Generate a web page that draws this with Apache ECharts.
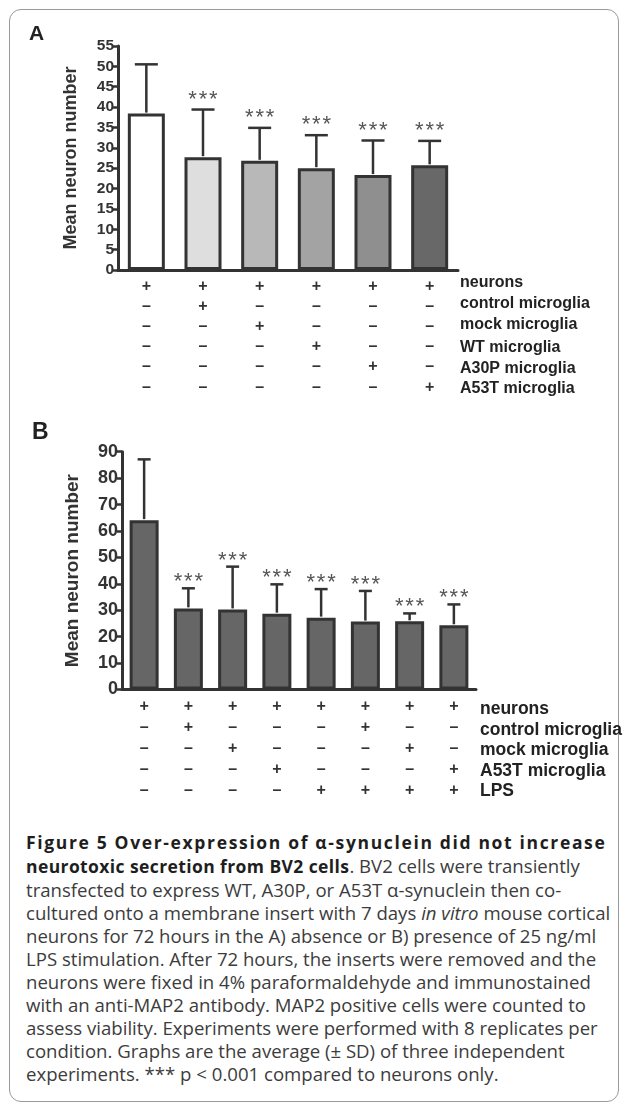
<!DOCTYPE html>
<html>
<head>
<meta charset="utf-8">
<script src="https://cdn.jsdelivr.net/npm/echarts@6/dist/echarts.min.js"></script>
<style>
  html, body { margin: 0; padding: 0; background: #fff; }
  body { width: 629px; height: 1111px; position: relative; overflow: hidden; }
  #frame { position: absolute; left: 9px; top: 9px; width: 608px; height: 1091px;
           border: 1.5px solid #9a9a9a; border-radius: 12px; }
  #chart { position: absolute; left: 0; top: 0; width: 629px; height: 810px; }
  #caption { position: absolute; left: 26px; top: 830px; width: 600px;
             font-family: "Open Sans", "Noto Sans", sans-serif; font-size: 18.6px;
             line-height: 23px; color: #3c3c3c; white-space: nowrap; }
  #caption b { color: #1e1e1e; font-size: 17.5px; letter-spacing: 0.4px; }
  #caption b.t1 { letter-spacing: 1.65px; }
</style>
</head>
<body>
<div id="frame"></div>
<div id="chart"></div>
<div id="caption">
<div><b class="t1">Figure 5 Over-expression of α-synuclein did not increase</b></div>
<div><b>neurotoxic secretion from BV2 cells</b>. BV2 cells were transiently</div>
<div>transfected to express WT, A30P, or A53T α-synuclein then co-</div>
<div>cultured onto a membrane insert with 7 days <i>in vitro</i> mouse cortical</div>
<div>neurons for 72 hours in the A) absence or B) presence of 25 ng/ml</div>
<div>LPS stimulation. After 72 hours, the inserts were removed and the</div>
<div>neurons were fixed in 4% paraformaldehyde and immunostained</div>
<div>with an anti-MAP2 antibody. MAP2 positive cells were counted to</div>
<div>assess viability. Experiments were performed with 8 replicates per</div>
<div>condition. Graphs are the average (± SD) of three independent</div>
<div>experiments. *** p &lt; 0.001 compared to neurons only.</div>
</div>
<script>
// ---------- Panel A data ----------
var catsA = ['1', '2', '3', '4', '5', '6'];
var meanA = [38.4, 27.7, 26.8, 25.0, 23.3, 25.7];
var sdA   = [12.1, 11.7, 8.1, 8.1, 8.5, 6.0];
var sigA  = ['', '***', '***', '***', '***', '***'];
var colorA = ['#ffffff', '#dedede', '#b8b8b8', '#a3a3a3', '#8f8f8f', '#686868'];
var rowNamesA = ['neurons', 'control microglia', 'mock microglia', 'WT microglia', 'A30P microglia', 'A53T microglia'];
var rowsA = [
  ['+', '+', '+', '+', '+', '+'],
  ['–', '+', '–', '–', '–', '–'],
  ['–', '–', '+', '–', '–', '–'],
  ['–', '–', '–', '+', '–', '–'],
  ['–', '–', '–', '–', '+', '–'],
  ['–', '–', '–', '–', '–', '+']
];
var yTicksA = { min: 0, max: 55, interval: 5 };

// ---------- Panel B data ----------
var catsB = ['1', '2', '3', '4', '5', '6', '7', '8'];
var meanB = [64.1, 30.7, 30.3, 28.7, 27.2, 25.7, 25.8, 24.3];
var sdB   = [23.0, 7.6, 16.2, 11.1, 10.8, 11.6, 3.0, 7.9];
var sigB  = ['', '***', '***', '***', '***', '***', '***', '***'];
var colorB = '#666666';
var rowNamesB = ['neurons', 'control microglia', 'mock microglia', 'A53T microglia', 'LPS'];
var rowsB = [
  ['+', '+', '+', '+', '+', '+', '+', '+'],
  ['–', '+', '–', '–', '–', '+', '–', '–'],
  ['–', '–', '+', '–', '–', '–', '+', '–'],
  ['–', '–', '–', '+', '–', '–', '–', '+'],
  ['–', '–', '–', '–', '+', '+', '+', '+']
];
var yTicksB = { min: 0, max: 90, interval: 10 };

var FONT = '"Liberation Sans", Arial, sans-serif';
var DARK = '#333333';

function errRender(sdArr, sigArr, capW, starGap) {
  return function (params, api) {
    var i = api.value(0), m = api.value(1), sd = api.value(2);
    var p0 = api.coord([i, m]);
    var p1 = api.coord([i, m + sd]);
    var h = capW / 2;
    var st = { stroke: DARK, lineWidth: 2.5 };
    var children = [
      { type: 'line', shape: { x1: p0[0], y1: p0[1] - 1, x2: p1[0], y2: p1[1] }, style: st },
      { type: 'line', shape: { x1: p1[0] - h, y1: p1[1], x2: p1[0] + h, y2: p1[1] }, style: st }
    ];
    var s = sigArr[params.dataIndex];
    if (s) {
      children.push({
        type: 'text', x: p1[0], y: p1[1] - starGap,
        style: { text: s.split('').join('\u200a'), textAlign: 'center', textVerticalAlign: 'top',
                 font: 'normal 22px ' + FONT, fill: '#555' }
      });
    }
    return { type: 'group', children: children };
  };
}

function colLabel(rows) {
  return function (v, idx) {
    return rows.map(function (r) { return r[idx]; }).join('\n');
  };
}

var chart = echarts.init(document.getElementById('chart'), null, { renderer: 'canvas' });

var graphics = [
  { type: 'text', left: 29, top: 24, style: { text: 'A', font: 'bold 21px ' + FONT, fill: '#222' } },
  { type: 'text', left: 32, top: 421, style: { text: 'B', font: 'bold 23px ' + FONT, fill: '#222' } }
];
var rowYA = [283, 304, 325, 347.5, 369, 389];
rowNamesA.forEach(function (n, k) {
  graphics.push({ type: 'text', x: 460, y: rowYA[k], style: { text: n, font: 'bold 16px ' + FONT, fill: '#222', textVerticalAlign: 'middle' } });
});
var rowYB = [709, 730, 750.5, 771.5, 791.5];
rowNamesB.forEach(function (n, k) {
  graphics.push({ type: 'text', x: 480, y: rowYB[k], style: { text: n, font: 'bold 17.5px ' + FONT, fill: '#222', textVerticalAlign: 'middle' } });
});

var option = {
  animation: false,
  textStyle: { fontFamily: FONT },
  graphic: graphics,
  grid: [
    { left: 118, top: 46, width: 340, height: 224 },
    { left: 122, top: 451.7, width: 354, height: 237.8 }
  ],
  xAxis: [
    { type: 'category', gridIndex: 0, data: catsA,
      axisLine: { lineStyle: { color: DARK, width: 3 } }, axisTick: { show: false },
      axisLabel: { formatter: colLabel(rowsA), interval: 0, margin: 6, lineHeight: 20.2,
                   fontSize: 16, fontWeight: 'bold', color: '#333', fontFamily: FONT } },
    { type: 'category', gridIndex: 1, data: catsB,
      axisLine: { lineStyle: { color: DARK, width: 3 } }, axisTick: { show: false },
      axisLabel: { formatter: colLabel(rowsB), interval: 0, margin: 7, lineHeight: 20.8,
                   fontSize: 16, fontWeight: 'bold', color: '#333', fontFamily: FONT } }
  ],
  yAxis: [
    { type: 'value', gridIndex: 0, min: yTicksA.min, max: yTicksA.max, interval: yTicksA.interval,
      name: 'Mean neuron number', nameLocation: 'middle', nameGap: 38,
      nameTextStyle: { fontSize: 18, fontWeight: 'bold', color: '#333', fontFamily: FONT },
      axisLine: { show: true, lineStyle: { color: DARK, width: 3 } },
      axisTick: { show: true, length: 5, lineStyle: { color: DARK, width: 2.5 } },
      splitLine: { show: false },
      axisLabel: { margin: 4, fontSize: 15.5, fontWeight: 'bold', color: '#333', fontFamily: FONT } },
    { type: 'value', gridIndex: 1, min: yTicksB.min, max: yTicksB.max, interval: yTicksB.interval,
      name: 'Mean neuron number', nameLocation: 'middle', nameGap: 40,
      nameTextStyle: { fontSize: 19, fontWeight: 'bold', color: '#333', fontFamily: FONT },
      axisLine: { show: true, lineStyle: { color: DARK, width: 3 } },
      axisTick: { show: true, length: 5, lineStyle: { color: DARK, width: 2.5 } },
      splitLine: { show: false },
      axisLabel: { margin: 4, fontSize: 18, fontWeight: 'bold', color: '#333', fontFamily: FONT } }
  ],
  series: [
    { type: 'bar', xAxisIndex: 0, yAxisIndex: 0, barWidth: 37,
      data: meanA.map(function (v, i) {
        return { value: v, itemStyle: { color: colorA[i], borderColor: DARK, borderWidth: 3 } };
      }) },
    { type: 'custom', xAxisIndex: 0, yAxisIndex: 0, z: 5,
      renderItem: errRender(sdA, sigA, 23, 21),
      data: meanA.map(function (v, i) { return [i, v, sdA[i]]; }) },
    { type: 'bar', xAxisIndex: 1, yAxisIndex: 1, barWidth: 29,
      itemStyle: { color: colorB, borderColor: DARK, borderWidth: 3 },
      data: meanB },
    { type: 'custom', xAxisIndex: 1, yAxisIndex: 1, z: 5,
      renderItem: errRender(sdB, sigB, 13, 17),
      data: meanB.map(function (v, i) { return [i, v, sdB[i]]; }) }
  ]
};
chart.setOption(option);
</script>
</body>
</html>
